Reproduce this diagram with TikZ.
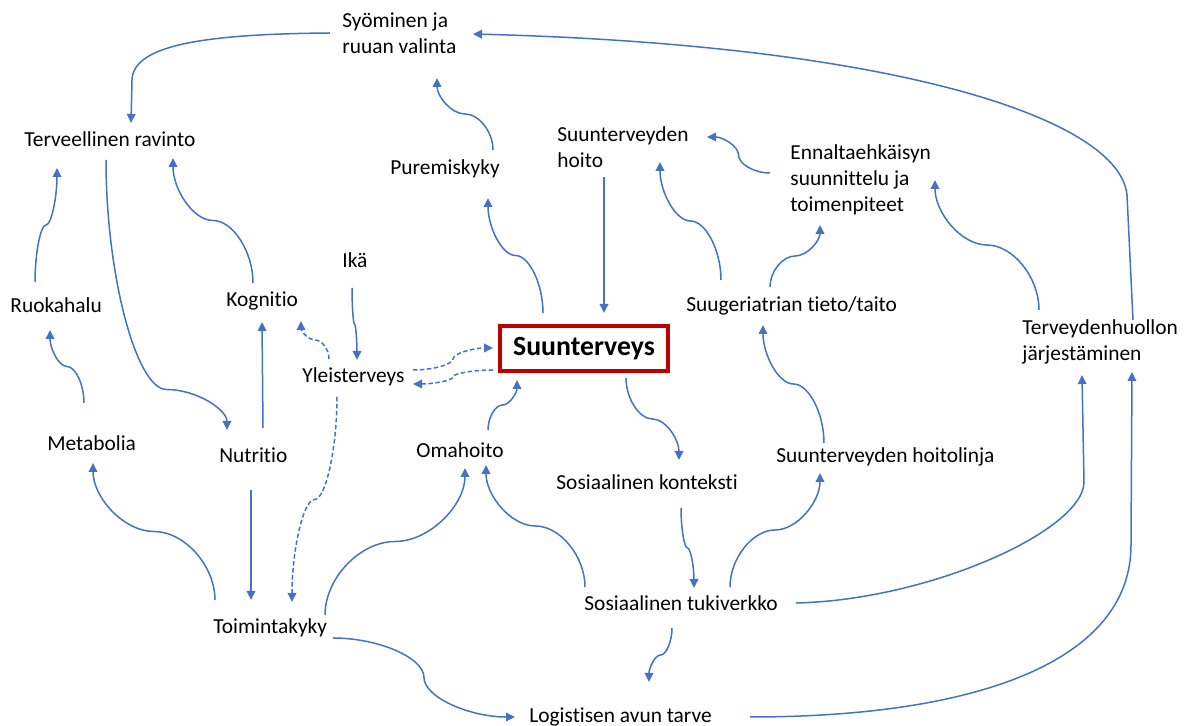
\documentclass[tikz,border=0pt]{standalone}
\usepackage{fontspec}
\setmainfont{Carlito}[Ligatures={NoCommon}]
\usetikzlibrary{calc,arrows.meta}
\definecolor{cblue}{HTML}{4472C4}
\definecolor{cred}{HTML}{C00000}
% vertical S-connector: #2 = adj, #3 start, #4 end
\newcommand\vconn[4][]{%
  \draw[conn,#1] let \p1=#3, \p2=#4, \n1={#2} in
  (\p1) .. controls (\x1,{\y1+0.5*\n1*(\y2-\y1)}) and ({\x1+0.25*(\x2-\x1)},{\y1+\n1*(\y2-\y1)}) ..
  ({0.5*(\x1+\x2)},{\y1+\n1*(\y2-\y1)}) .. controls ({\x1+0.75*(\x2-\x1)},{\y1+\n1*(\y2-\y1)}) and (\x2,{\y1+0.5*(1+\n1)*(\y2-\y1)}) .. (\p2);}
% horizontal S-connector
\newcommand\hconn[4][]{%
  \draw[conn,#1] let \p1=#3, \p2=#4, \n1={#2} in
  (\p1) .. controls ({\x1+0.5*\n1*(\x2-\x1)},\y1) and ({\x1+\n1*(\x2-\x1)},{\y1+0.25*(\y2-\y1)}) ..
  ({\x1+\n1*(\x2-\x1)},{0.5*(\y1+\y2)}) .. controls ({\x1+\n1*(\x2-\x1)},{\y1+0.75*(\y2-\y1)}) and ({\x1+0.5*(1+\n1)*(\x2-\x1)},\y2) .. (\p2);}
\begin{document}
\begin{tikzpicture}[x=0.5pt,y=-0.5pt,
  lbl/.style={inner sep=0pt, anchor=west, align=left, font=\fontsize{10.7}{12.9}\selectfont},
  conn/.style={draw=cblue, line width=0.75pt, -{Triangle[length=4.5pt,width=4.3pt]}},
  dsh/.style={dash pattern=on 2.2pt off 1.3pt},
  mainbox/.style={draw=cred, line width=2pt, inner sep=0pt, minimum width=84pt, minimum height=22.5pt, font=\fontsize{13.9}{16}\selectfont\bfseries}]
\useasboundingbox (0,0) rectangle (1191,726);
% nodes
\node[lbl] (syo) at (342,33) {Syöminen ja\\ruuan valinta};
\node[lbl] (ter) at (24,139) {Terveellinen ravinto};
\node[lbl] (pur) at (390,169) {Puremiskyky};
\node[lbl] (suh) at (557,147) {Suunterveyden\\hoito};
\node[lbl] (enn) at (790,180) {Ennaltaehkäisyn\\suunnittelu ja\\toimenpiteet};
\node[lbl] (ruo) at (10,305) {Ruokahalu};
\node[lbl] (kog) at (226,301) {Kognitio};
\node[lbl] (ika) at (342,260) {Ikä};
\node[lbl] (yle) at (302,377) {Yleisterveys};
\node[mainbox] (sun) at (584,348.5) {Suunterveys};
\node[lbl] (sug) at (686,306) {Suugeriatrian tieto/taito};
\node[lbl] (tdh) at (1022,342) {Terveydenhuollon\\järjestäminen};
\node[lbl] (met) at (47,443) {Metabolia};
\node[lbl] (nut) at (219,455) {Nutritio};
\node[lbl] (oma) at (416,450) {Omahoito};
\node[lbl] (sok) at (556,482) {Sosiaalinen konteksti};
\node[lbl] (shl) at (776,457) {Suunterveyden hoitolinja};
\node[lbl] (toi) at (213,628) {Toimintakyky};
\node[lbl] (stv) at (584,603) {Sosiaalinen tukiverkko};
\node[lbl] (log) at (529,717) {Logistisen avun tarve};
% connectors
\draw[conn] ([shift={(-12,0)}]syo.west) .. controls (200,34) and (133,46) .. (132,80) -- ([shift={(107,-16)}]ter.west);
\vconn{0.5}{([shift={(103,-19)}]pur.west)}{([shift={(95,45)}]syo.west)}
\vconn{0.85}{([shift={(82,21)}]ter.west)}{([shift={(8,-25)}]nut.west)}
\vconn{0.5}{([shift={(25,-23)}]ruo.west)}{([shift={(33,29)}]ter.west)}
\vconn{0.5}{([shift={(27,-18)}]kog.west)}{([shift={(149,19)}]ter.west)}
\vconn{0.5}{([shift={(37,-40)}]met.west)}{([shift={(40,25)}]ruo.west)}
\draw[conn] ([shift={(44,-27)}]nut.west) -- ([shift={(36,21)}]kog.west);
\draw[conn] ([shift={(32,35)}]nut.west) -- ([shift={(38,-28)}]toi.west);
\vconn{0.5}{([shift={(2,-28)}]toi.west)}{([shift={(46,20)}]met.west)}
\vconn[dsh]{0.5}{([shift={(35,20)}]yle.west)}{([shift={(79,-26)}]toi.west)}
\vconn[dsh]{0.5}{([shift={(27,-18)}]yle.west)}{([shift={(75,20)}]kog.west)}
\vconn{0.5}{([shift={(10,28)}]ika.west)}{([shift={(55,-17)}]yle.west)}
\hconn[dsh]{0.5}{([shift={(111,-7)}]yle.west)}{([shift={(-91,-0.5)}]sun.center)}
\hconn[dsh]{0.5}{([shift={(-91,21.5)}]sun.center)}{([shift={(111,7)}]yle.west)}
\vconn{0.5}{([shift={(-41,-35.5)}]sun.center)}{([shift={(98,29)}]pur.west)}
\vconn{0.5}{([shift={(72,-20)}]oma.west)}{([shift={(-67,31.5)}]sun.center)}
\vconn{0.5}{([shift={(112,-13)}]toi.west)}{([shift={(49,18)}]oma.west)}
\vconn{0.5}{([shift={(1,-16)}]stv.west)}{([shift={(70,15)}]oma.west)}
\hconn{0.5}{([shift={(120,10)}]toi.west)}{([shift={(-14,0)}]log.west)}
\vconn{0.5}{([shift={(42,29.5)}]sun.center)}{([shift={(123,-22)}]sok.west)}
\vconn{0.5}{([shift={(125,26)}]sok.west)}{([shift={(110,-15)}]stv.west)}
\vconn{0.5}{([shift={(146,-16)}]stv.west)}{([shift={(44,16)}]shl.west)}
\vconn{0.5}{([shift={(48,-14)}]shl.west)}{([shift={(77,19)}]sug.west)}
\draw[conn] ([shift={(212,0)}]stv.west) .. controls (930,600) and (1084,530) .. (1084,482) -- ([shift={(60,33)}]tdh.west);
\draw[conn] ([shift={(221,0)}]log.west) .. controls (980,717) and (1131,660) .. (1131,545) -- ([shift={(110,30)}]tdh.west);
\vconn{0.5}{([shift={(88,25)}]stv.west)}{([shift={(120,-35)}]log.west)}
\draw[conn] ([shift={(47,30)}]suh.west) -- ([shift={(20,-35.5)}]sun.center);
\vconn{0.5}{([shift={(35,-26)}]sug.west)}{([shift={(103,15)}]suh.west)}
\vconn{0.5}{([shift={(84,-19)}]sug.west)}{([shift={(30,45)}]enn.west)}
\hconn{0.5}{([shift={(-20,-7)}]enn.west)}{([shift={(150,-10)}]suh.west)}
\vconn{0.5}{([shift={(17,-32)}]tdh.west)}{([shift={(145,0)}]enn.west)}
\draw[conn] ([shift={(111,-22)}]tdh.west) -- (1127,195) .. controls (1120,120) and (900,45) .. ([shift={(131,1)}]syo.west);
\end{tikzpicture}
\end{document}
